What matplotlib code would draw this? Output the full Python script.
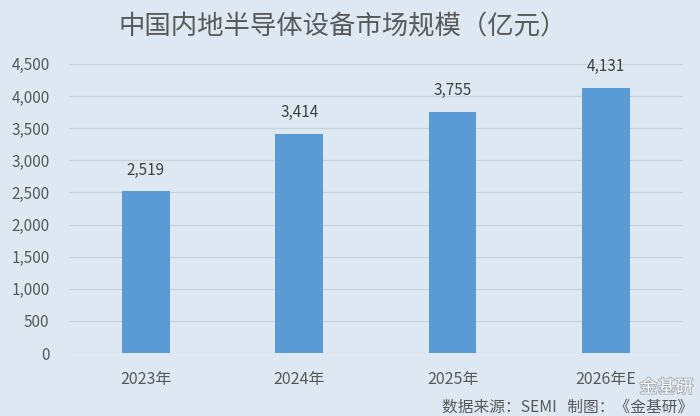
import matplotlib
matplotlib.use("Agg")
import matplotlib.pyplot as plt
from matplotlib.ticker import FuncFormatter
import matplotlib.patheffects as pe

plt.rcParams['font.family'] = ['Noto Sans CJK SC', 'DejaVu Sans']

categories = ["2023年", "2024年", "2025年", "2026年E"]
values = [2519, 3414, 3755, 4131]
title = "中国内地半导体设备市场规模（亿元）"
source = "数据来源：SEMI   制图：《金基研》"
watermark = "金基研"

bg = "#dde8f3"
bar_color = "#5b9bd5"
text_color = "#595959"

fig = plt.figure(figsize=(7.0, 4.16), dpi=100, facecolor=bg)
ax = fig.add_axes([0.0986, 0.1514, 0.877, 0.695], facecolor=bg)

x = range(len(categories))
bars = ax.bar(x, values, width=0.31, color=bar_color, zorder=3)
ax.set_xlim(-0.5, len(categories) - 0.5)
ax.set_ylim(0, 4500)
ax.set_yticks(range(0, 4501, 500))
ax.yaxis.set_major_formatter(FuncFormatter(lambda v, p: f"{int(v):,}"))
ax.set_xticks(list(x))
ax.set_xticklabels(categories)
ax.grid(axis='y', color="#c9d3dd", linewidth=0.9, zorder=0)
for s in ax.spines.values():
    s.set_visible(False)
ax.tick_params(axis='both', length=0, colors=text_color)
ax.tick_params(axis='x', pad=13, labelsize=11.5)
ax.tick_params(axis='y', pad=14, labelsize=11)

for b, v in zip(bars, values):
    ax.annotate(f"{v:,}", (b.get_x() + b.get_width() / 2, v), xytext=(0, 9),
                textcoords='offset points', ha='center', va='bottom',
                fontsize=11, color="#404040")

fig.text(0.489, 0.936, title, ha='center', va='center', fontsize=19, color=text_color)
fig.text(0.99, 0.022, source, ha='right', va='center', fontsize=11.3, color=text_color)
fig.text(0.952, 0.068, watermark, ha='center', va='center', fontsize=13, color="white",
         path_effects=[pe.withStroke(linewidth=1.2, foreground="#9aa4ae")])

fig.savefig("out.png", dpi=100, facecolor=bg)
